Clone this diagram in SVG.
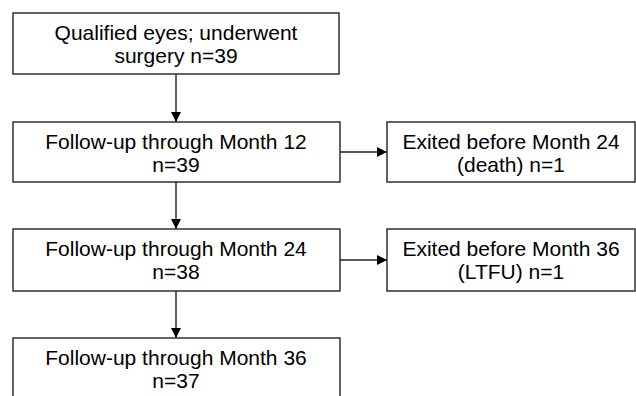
<svg xmlns="http://www.w3.org/2000/svg" width="636" height="396" viewBox="0 0 636 396">
<style>
.box{fill:#fff;stroke:#222;stroke-width:1.4}
.t{font-family:"Liberation Sans",Arial,sans-serif;font-size:21px;fill:#000;text-anchor:middle}
.c{stroke:#222;stroke-width:1.4;fill:none}
</style>
<defs>
<marker id="ah" markerWidth="10" markerHeight="10" refX="10" refY="5" orient="auto" markerUnits="userSpaceOnUse">
<path d="M0,0 L10,5 L0,10 Z" fill="#000"/>
</marker>
</defs>
<rect width="636" height="396" fill="#fff"/>
<g id="n1">
<rect class="box" x="13" y="13" width="326" height="61"/>
<text class="t" x="176" y="40">Qualified eyes; underwent</text>
<text class="t" x="176" y="63">surgery n=39</text>
</g>
<g id="n2">
<rect class="box" x="13" y="122" width="327" height="60"/>
<text class="t" x="176" y="149">Follow-up through Month 12</text>
<text class="t" x="176" y="172">n=39</text>
</g>
<g id="n3">
<rect class="box" x="387" y="122" width="248" height="60"/>
<text class="t" x="511" y="149">Exited before Month 24</text>
<text class="t" x="511" y="172">(death) n=1</text>
</g>
<g id="n4">
<rect class="box" x="13" y="229" width="327" height="62"/>
<text class="t" x="176" y="256">Follow-up through Month 24</text>
<text class="t" x="176" y="279">n=38</text>
</g>
<g id="n5">
<rect class="box" x="387" y="229" width="248" height="62"/>
<text class="t" x="511" y="256">Exited before Month 36</text>
<text class="t" x="511" y="279">(LTFU) n=1</text>
</g>
<g id="n6">
<rect class="box" x="13" y="338" width="327" height="62"/>
<text class="t" x="176" y="365">Follow-up through Month 36</text>
<text class="t" x="176" y="388">n=37</text>
</g>
<g id="connectors">
<line class="c" x1="176" y1="74" x2="176" y2="122" marker-end="url(#ah)"/>
<line class="c" x1="176" y1="182" x2="176" y2="229" marker-end="url(#ah)"/>
<line class="c" x1="176" y1="291" x2="176" y2="338" marker-end="url(#ah)"/>
<line class="c" x1="340" y1="152" x2="387" y2="152" marker-end="url(#ah)"/>
<line class="c" x1="340" y1="260" x2="387" y2="260" marker-end="url(#ah)"/>
</g>
</svg>
